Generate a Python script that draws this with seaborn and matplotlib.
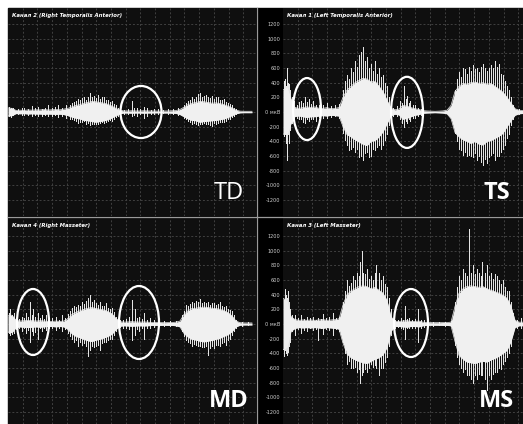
import pandas as pd
import seaborn as sns
import matplotlib.pyplot as plt
from matplotlib.patches import Ellipse, Rectangle
from matplotlib.lines import Line2D

# envelope sample grid (time, panel units)
t_env = list(range(0, 245, 4))

# TD - Канал 2 (Right Temporalis Anterior): dense core envelope (+/-)
td_hi = [55, 50, 22, 25, 22, 28, 25, 30, 28, 34, 28, 30, 34, 30, 40, 50,
         70, 90, 100, 120, 130, 145, 140, 130, 120, 105, 80, 50, 25, 14, 14, 17,
         14, 14, 17, 14, 14, 12, 12, 14, 14, 17, 20, 35, 65, 100, 120, 130,
         145, 140, 130, 120, 125, 115, 100, 80, 55, 25, 12, 10, 10, 10]
td_lo = [55, 50, 22, 25, 22, 28, 25, 28, 28, 32, 28, 30, 32, 30, 36, 50,
         70, 85, 95, 115, 120, 130, 140, 130, 120, 105, 80, 50, 25, 14, 14, 17,
         14, 14, 17, 14, 14, 12, 12, 14, 14, 17, 20, 35, 65, 95, 115, 120,
         140, 130, 125, 120, 115, 105, 95, 75, 50, 25, 12, 10, 10, 10]
# single spikes: (time, max, min)
td_spikes = [(1, 70, -60), (3, 60, -70), (5, 50, -40), (10, 40, -30), (14, 50, -40), (16, 60, -40),
             (20, 45, -35), (24, 80, -50), (27, 50, -40), (30, 70, -60), (34, 40, -50), (37, 60, -40),
             (40, 90, -60), (44, 60, -50), (47, 70, -40), (50, 100, -70), (54, 60, -60), (58, 90, -80),
             (62, 100, -90), (64, 120, -100), (66, 130, -110), (68, 150, -120), (70, 180, -150),
             (72, 160, -130), (74, 190, -140), (76, 200, -120), (78, 170, -160), (80, 210, -150),
             (82, 260, -180), (84, 200, -170), (86, 220, -170), (88, 190, -160), (90, 230, -160),
             (92, 180, -150), (94, 200, -140), (96, 200, -150), (98, 170, -130), (100, 160, -120),
             (102, 140, -110), (104, 150, -120), (106, 110, -90), (108, 90, -70), (110, 60, -50),
             (116, 30, -25), (120, 40, -30), (124, 150, -60), (126, 50, -40), (129, 60, -50),
             (132, 40, -30), (136, 70, -80), (139, 50, -50), (143, 30, -30), (146, 40, -25),
             (150, 40, -30), (155, 30, -20), (160, 40, -30), (165, 35, -25), (170, 50, -40),
             (176, 90, -80), (178, 120, -100), (180, 150, -120), (182, 170, -140), (184, 200, -170),
             (186, 180, -150), (188, 210, -160), (190, 240, -180), (192, 260, -160), (194, 200, -170),
             (196, 220, -150), (198, 230, -170), (200, 200, -160), (202, 190, -180), (204, 220, -190),
             (206, 180, -150), (208, 200, -160), (210, 200, -150), (212, 170, -140), (214, 160, -130),
             (216, 180, -140), (218, 140, -120), (220, 120, -100), (222, 110, -90), (224, 90, -70),
             (226, 60, -50), (228, 40, -30)]

# TS - Канал 1 (Left Temporalis Anterior)
ts_hi = [300, 330, 180, 60, 50, 60, 70, 60, 70, 50, 50, 60, 45, 50, 60, 200,
         300, 350, 400, 430, 460, 450, 410, 420, 350, 280, 160, 50, 30, 40, 90, 80,
         60, 45, 35, 18, 14, 12, 10, 12, 15, 25, 90, 280, 350, 390, 380, 400,
         410, 390, 400, 380, 390, 350, 310, 270, 200, 120, 45, 25, 20, 20]
ts_lo = [300, 310, 160, 60, 55, 65, 75, 65, 65, 55, 50, 55, 45, 50, 55, 200,
         310, 340, 380, 410, 440, 460, 400, 390, 340, 270, 160, 50, 30, 40, 100, 85,
         65, 45, 35, 18, 14, 12, 10, 12, 15, 25, 90, 280, 340, 380, 400, 430,
         400, 440, 450, 400, 390, 360, 330, 290, 200, 120, 45, 25, 20, 20]
ts_spikes = [(1, 420, -330), (2, 450, -250), (3, 350, -420), (4, 600, -650), (5, 400, -300),
             (6, 380, -420), (7, 300, -250), (9, 200, -150), (11, 150, -120), (14, 100, -80),
             (16, 130, -90), (18, 150, -100), (20, 120, -130), (22, 200, -150), (24, 140, -100),
             (26, 180, -120), (28, 110, -90), (30, 150, -100), (33, 100, -120), (36, 90, -70),
             (40, 100, -80), (44, 120, -80), (48, 80, -70), (52, 90, -60), (56, 110, -80),
             (60, 300, -280), (62, 420, -380), (64, 500, -450), (66, 450, -520), (68, 600, -500),
             (70, 550, -480), (72, 700, -550), (74, 620, -500), (76, 780, -620), (78, 820, -600),
             (80, 880, -650), (82, 700, -560), (84, 750, -550), (86, 600, -620), (88, 650, -600),
             (90, 560, -500), (92, 700, -520), (94, 520, -480), (96, 600, -450), (98, 480, -500),
             (100, 500, -450), (102, 400, -380), (104, 350, -300), (106, 200, -180), (110, 60, -50),
             (114, 80, -60), (117, 150, -100), (119, 120, -150), (121, 350, -200), (123, 180, -120),
             (124, 220, -150), (126, 120, -100), (127, 150, -120), (130, 90, -80), (132, 100, -80),
             (135, 60, -50), (138, 40, -40), (172, 300, -280), (174, 450, -400), (176, 550, -500),
             (178, 480, -520), (180, 600, -580), (182, 580, -550), (184, 520, -600), (186, 620, -580),
             (188, 560, -600), (190, 640, -620), (192, 580, -560), (194, 600, -650), (196, 550, -600),
             (198, 620, -680), (200, 650, -720), (202, 600, -640), (204, 560, -700), (206, 600, -620),
             (208, 640, -580), (210, 600, -560), (212, 700, -650), (214, 620, -600), (216, 650, -600),
             (218, 520, -540), (220, 500, -500), (222, 420, -450), (224, 350, -350), (226, 300, -300),
             (228, 200, -180), (230, 100, -90), (236, 40, -30)]

# MD - Канал 4 (Right Masseter)
md_hi = [110, 120, 50, 40, 45, 50, 45, 40, 45, 40, 35, 35, 40, 35, 40, 75,
         130, 160, 180, 200, 215, 225, 210, 200, 190, 170, 140, 75, 32, 25, 28, 32,
         28, 25, 28, 25, 20, 20, 20, 18, 20, 20, 25, 40, 130, 180, 210, 215,
         225, 230, 225, 215, 210, 200, 180, 155, 110, 40, 18, 14, 14, 14]
md_lo = [110, 120, 50, 40, 45, 50, 45, 40, 45, 40, 35, 35, 40, 35, 40, 75,
         135, 170, 190, 210, 230, 240, 220, 210, 190, 170, 140, 75, 32, 25, 28, 32,
         28, 25, 28, 25, 20, 20, 20, 18, 20, 20, 25, 40, 130, 180, 210, 220,
         235, 245, 235, 225, 210, 195, 170, 145, 105, 40, 18, 14, 14, 14]
md_spikes = [(1, 150, -120), (2, 200, -150), (4, 120, -130), (6, 150, -120), (8, 80, -70),
             (11, 70, -60), (14, 100, -100), (16, 80, -60), (18, 150, -120), (20, 90, -80),
             (22, 300, -250), (24, 120, -100), (25, 200, -150), (27, 90, -110), (30, 150, -200),
             (32, 80, -60), (34, 120, -100), (36, 70, -60), (38, 120, -80), (41, 60, -50),
             (44, 80, -60), (48, 100, -80), (51, 60, -50), (54, 120, -100), (57, 80, -70),
             (60, 130, -120), (62, 180, -170), (64, 220, -200), (66, 250, -250), (68, 230, -220),
             (70, 260, -300), (72, 240, -250), (74, 300, -280), (76, 270, -260), (78, 320, -300),
             (80, 350, -430), (82, 400, -350), (84, 300, -300), (86, 330, -320), (88, 280, -300),
             (90, 260, -280), (92, 300, -350), (94, 240, -260), (96, 250, -240), (98, 280, -250),
             (100, 220, -220), (102, 200, -200), (104, 220, -200), (106, 160, -150), (108, 100, -90),
             (112, 50, -40), (115, 60, -50), (118, 70, -60), (121, 90, -70), (124, 330, -220),
             (127, 200, -150), (129, 80, -70), (131, 100, -100), (134, 70, -60), (136, 150, -200),
             (139, 60, -50), (142, 80, -60), (146, 50, -40), (150, 40, -30), (156, 35, -30),
             (162, 40, -30), (168, 35, -30), (174, 120, -100), (176, 180, -160), (178, 260, -220),
             (180, 240, -240), (182, 270, -260), (184, 300, -300), (186, 280, -270), (188, 320, -280),
             (190, 300, -300), (192, 340, -300), (194, 290, -310), (196, 300, -320), (198, 280, -300),
             (200, 300, -420), (202, 260, -330), (204, 280, -300), (206, 280, -330), (208, 260, -280),
             (210, 270, -290), (212, 300, -300), (214, 240, -260), (216, 230, -250), (218, 250, -280),
             (220, 200, -220), (222, 190, -200), (224, 180, -150), (226, 120, -100), (228, 60, -50),
             (234, 30, -25), (240, 25, -20)]

# MS - Канал 3 (Left Masseter)
ms_hi = [350, 320, 100, 60, 50, 55, 50, 55, 50, 55, 60, 50, 55, 60, 70, 260,
         400, 450, 480, 510, 520, 510, 480, 500, 460, 420, 320, 100, 35, 35, 40, 45,
         35, 35, 40, 25, 20, 18, 18, 18, 20, 20, 25, 240, 420, 480, 510, 520,
         510, 500, 510, 480, 460, 440, 420, 390, 350, 240, 50, 25, 25, 25]
ms_lo = [350, 320, 100, 60, 50, 55, 50, 55, 50, 55, 60, 50, 55, 60, 70, 260,
         410, 460, 490, 510, 530, 540, 510, 480, 460, 420, 320, 100, 35, 35, 40, 45,
         35, 35, 40, 25, 20, 18, 18, 18, 20, 20, 25, 240, 430, 480, 520, 530,
         540, 520, 510, 520, 490, 470, 440, 400, 360, 240, 50, 25, 25, 25]
ms_spikes = [(1, 300, -430), (2, 480, -350), (3, 400, -400), (4, 350, -420), (5, 450, -380),
             (6, 300, -300), (7, 200, -250), (9, 120, -100), (12, 120, -150), (15, 80, -70),
             (18, 120, -120), (21, 70, -80), (24, 100, -100), (27, 80, -60), (30, 90, -80),
             (33, 60, -70), (35, 80, -220), (38, 70, -60), (40, 130, -130), (43, 80, -70),
             (46, 90, -80), (50, 150, -150), (53, 80, -70), (56, 100, -100), (58, 120, -90),
             (60, 300, -250), (62, 450, -400), (64, 600, -550), (66, 520, -500), (68, 560, -600),
             (70, 650, -600), (72, 600, -580), (74, 700, -650), (76, 650, -620), (77, 850, -800),
             (79, 1000, -700), (80, 700, -650), (82, 680, -620), (84, 750, -650), (86, 620, -600),
             (88, 650, -550), (90, 600, -580), (92, 700, -560), (93, 800, -600), (96, 700, -700),
             (98, 600, -600), (100, 650, -600), (102, 550, -520), (104, 500, -450), (106, 350, -300),
             (108, 200, -150), (112, 60, -50), (115, 50, -40), (118, 80, -60), (120, 60, -70),
             (122, 250, -200), (124, 70, -60), (126, 80, -60), (129, 60, -50), (132, 70, -60),
             (135, 200, -250), (138, 60, -50), (141, 50, -40), (145, 30, -25), (150, 30, -25),
             (156, 25, -20), (162, 30, -25), (168, 40, -30), (172, 300, -280), (174, 500, -450),
             (176, 650, -550), (178, 600, -600), (180, 750, -650), (182, 700, -620), (184, 650, -700),
             (186, 1300, -700), (188, 700, -750), (190, 800, -800), (192, 680, -700), (194, 750, -750),
             (196, 700, -680), (198, 650, -700), (199, 850, -700), (202, 700, -750), (204, 800, -900),
             (206, 650, -700), (208, 700, -750), (210, 620, -680), (212, 680, -650), (214, 650, -650),
             (216, 600, -600), (218, 550, -620), (220, 600, -550), (222, 500, -500), (224, 450, -450),
             (226, 450, -400), (228, 300, -300), (230, 150, -120), (234, 60, -50), (238, 80, -60)]

# circled regions: (time centre, value centre, width, height)
td_rings = [(133, 0, 41, 710)]
ts_rings = [(24, 40, 28, 846), (124, -5, 32, 970)]
md_rings = [(25, 27, 32, 900), (131, 20, 40, 995)]
ms_rings = [(128, 13, 34, 927)]

titles = ['Канал 2 (Right Temporalis Anterior)', 'Канал 1 (Left Temporalis Anterior)',
          'Канал 4 (Right Masseter)', 'Канал 3 (Left Masseter)']
tags = ['TD', 'TS', 'MD', 'MS']
y_ticks = list(range(-1200, 1201, 200))


def draw_panel(ax, hi, lo, spikes, rings, title, tag, bold, ylim, xmax, labels):
    ax.set_facecolor('#0f0f0f')
    df = pd.DataFrame({'t': t_env, 'hi': hi, 'lo': [-v for v in lo]})
    sp = pd.DataFrame(spikes, columns=['t', 'hi', 'lo'])
    ax.vlines(sp['t'], sp['lo'], sp['hi'], color='#e4e4e4', lw=0.72,
              antialiased=False, zorder=2)
    ax.fill_between(df['t'], df['lo'], df['hi'], color='#f0f0f0', lw=0, zorder=3)
    sns.lineplot(data=df, x='t', y='hi', ax=ax, color='#f0f0f0', lw=0.5, zorder=3)
    sns.lineplot(data=df, x='t', y='lo', ax=ax, color='#f0f0f0', lw=0.5, zorder=3)
    for (tc, yc, w, h) in rings:
        ax.add_patch(Ellipse((tc, yc), w, h, fill=False, ec='white', lw=1.6, zorder=5))
    ax.set_xlim(0, xmax)
    ax.set_ylim(*ylim)
    ax.set_xticks([i * 14.7 for i in range(1, 17)])
    ax.set_yticks(y_ticks)
    ax.grid(True, color='#404040', ls=(0, (2, 2)), lw=0.7)
    ax.set_axisbelow(True)
    ax.tick_params(length=0, labelbottom=False, labelleft=labels, labelsize=3.6,
                   labelcolor='#cfcfcf', pad=2)
    if labels:
        ax.set_yticklabels(['0 мкВ' if v == 0 else str(v) for v in y_ticks])
    ax.set_xlabel('')
    ax.set_ylabel('')
    for s in ax.spines.values():
        s.set_visible(False)
    ax.text(0.016, 0.965, title, transform=ax.transAxes, color='white', fontsize=3.9,
            style='italic', weight='bold', va='center', ha='left')
    ax.text(0.89, 0.11, tag, transform=ax.transAxes, color='white', fontsize=17,
            family='Open Sans', weight='bold' if bold else 'normal', ha='center', va='center')


W, H = 523, 424
fig = plt.figure(figsize=(W / 100, H / 100), dpi=100)
fig.patch.set_facecolor('white')
fig.add_artist(Rectangle((8 / W, 0), 1, (H - 8) / H, transform=fig.transFigure,
                         color='black', zorder=0))

ax_td = fig.add_axes([8 / W, (H - 216) / H, 248 / W, 208 / H])
ax_ts = fig.add_axes([283 / W, (H - 216) / H, 240 / W, 208 / H])
ax_md = fig.add_axes([8 / W, 0, 248 / W, 206 / H])
ax_ms = fig.add_axes([283 / W, 0, 240 / W, 206 / H])

draw_panel(ax_td, td_hi, td_lo, td_spikes, td_rings,
           titles[0], tags[0], False, (-1418, 1418), 248, False)
draw_panel(ax_ts, ts_hi, ts_lo, ts_spikes, ts_rings,
           titles[1], tags[1], True, (-1418, 1418), 240, True)
draw_panel(ax_md, md_hi, md_lo, md_spikes, md_rings,
           titles[2], tags[2], True, (-1364, 1445), 248, False)
draw_panel(ax_ms, ms_hi, ms_lo, ms_spikes, ms_rings,
           titles[3], tags[3], True, (-1364, 1445), 240, True)

fig.add_artist(Line2D([8 / W, 1], [(H - 217) / H] * 2, transform=fig.transFigure,
                      color='#9a9a9a', lw=0.9))
fig.add_artist(Line2D([256.5 / W] * 2, [0, (H - 8) / H], transform=fig.transFigure,
                      color='#9a9a9a', lw=0.9))

fig.savefig('out.png', dpi=100, facecolor=fig.get_facecolor())
